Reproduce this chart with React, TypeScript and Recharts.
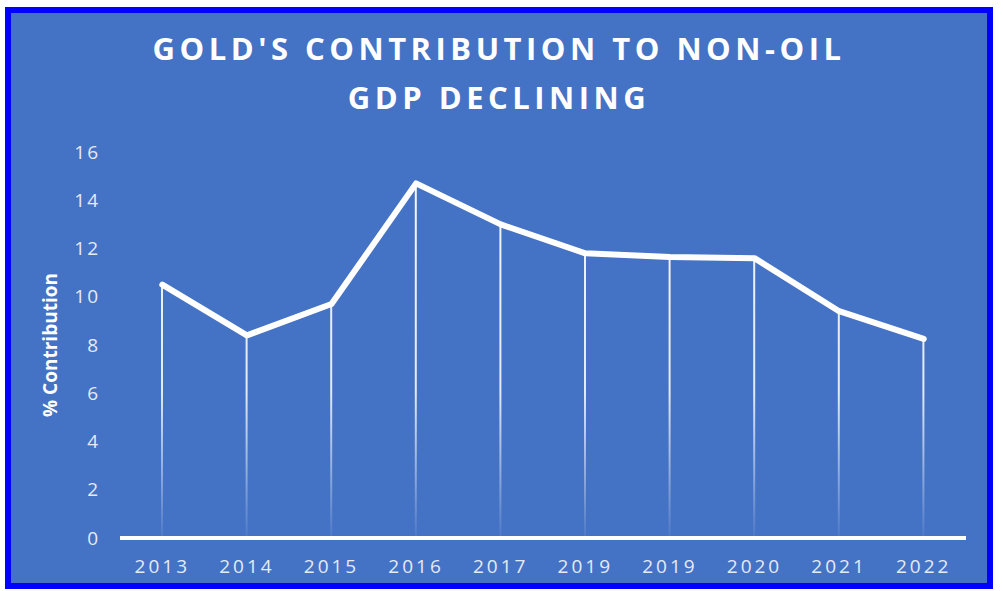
import { Bar, ComposedChart, Label, Line, XAxis, YAxis } from "recharts";

const years = ["2013", "2014", "2015", "2016", "2017", "2019", "2019", "2020", "2021", "2022"];
const contribution = [10.5, 8.4, 9.7, 14.7, 13.0, 11.8, 11.65, 11.6, 9.4, 8.25];
const yTicks = [0, 2, 4, 6, 8, 10, 12, 14, 16];

const chartData = years.map((year, i) => ({
  year,
  value: contribution[i],
}));

const tickStyle = {
  fill: "#e4eaf6",
  fontSize: 19,
  fontFamily: "'Open Sans', sans-serif",
};

function App() {
  return (
    <div
      style={{
        position: "absolute",
        left: 5,
        top: 7,
        width: 988,
        height: 582,
        boxSizing: "border-box",
        border: "6px solid #0000ff",
        background: "#4472c4",
      }}
    >
      <div
        style={{
          position: "absolute",
          left: 0,
          top: 11,
          width: 976,
          textAlign: "center",
          color: "#ffffff",
          fontFamily: "'Open Sans', sans-serif",
          fontWeight: 700,
          fontSize: 31,
          lineHeight: "49px",
          letterSpacing: 4.5,
        }}
      >
        GOLD'S CONTRIBUTION TO NON-OIL
        <br />
        GDP DECLINING
      </div>

      <ComposedChart
        width={976}
        height={570}
        data={chartData}
        margin={{ top: 139, right: 21, bottom: 0, left: 0 }}
      >
        <defs>
          <linearGradient id="dropFade" gradientUnits="userSpaceOnUse" x1="0" y1="139" x2="0" y2="525">
            <stop offset="0%" stopColor="#ffffff" stopOpacity={0.95} />
            <stop offset="62%" stopColor="#ffffff" stopOpacity={0.85} />
            <stop offset="100%" stopColor="#ffffff" stopOpacity={0.05} />
          </linearGradient>
        </defs>

        <XAxis
          dataKey="year"
          height={45}
          axisLine={{ stroke: "#ffffff", strokeWidth: 4 }}
          tickLine={false}
          tick={{ ...tickStyle, letterSpacing: 3 }}
          tickMargin={16}
        />

        <YAxis
          width={109}
          domain={[0, 16]}
          ticks={yTicks}
          axisLine={false}
          tickLine={false}
          tick={{ ...tickStyle, letterSpacing: 2 }}
          tickMargin={14}
        >
          <Label
            value="% Contribution"
            angle={-90}
            position="insideLeft"
            offset={39}
            style={{
              textAnchor: "middle",
              fill: "#ffffff",
              fontSize: 19,
              fontWeight: 700,
              fontFamily: "'Open Sans', sans-serif",
            }}
          />
        </YAxis>

        <Bar dataKey="value" barSize={2} fill="url(#dropFade)" isAnimationActive={false} />

        <Line
          type="linear"
          dataKey="value"
          stroke="#ffffff"
          strokeWidth={6}
          strokeLinejoin="round"
          strokeLinecap="round"
          dot={false}
          activeDot={false}
          isAnimationActive={false}
        />
      </ComposedChart>
    </div>
  );
}

export default App;
